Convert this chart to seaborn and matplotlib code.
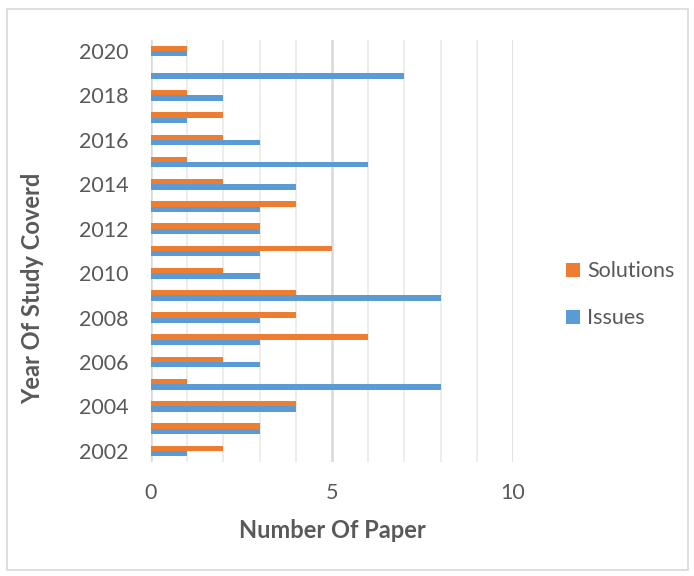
import matplotlib
matplotlib.use("Agg")
import matplotlib.pyplot as plt
import seaborn as sns
import pandas as pd
from matplotlib.patches import Rectangle

years = list(range(2002, 2021))
issues = [1, 3, 4, 8, 3, 3, 3, 8, 3, 3, 3, 3, 4, 6, 3, 1, 2, 7, 1]
solutions = [2, 3, 4, 1, 2, 6, 4, 4, 2, 5, 3, 4, 2, 1, 2, 2, 1, 0, 1]
series_names = ["Solutions", "Issues"]
colors = {"Solutions": "#ED7D31", "Issues": "#5B9BD5"}
x_ticks = [0, 5, 10]

rows = []
for y, s, i in zip(years, solutions, issues):
    rows.append({"Year": str(y), "Series": "Solutions", "Value": s})
    rows.append({"Year": str(y), "Series": "Issues", "Value": i})
df = pd.DataFrame(rows)
order = [str(y) for y in reversed(years)]

sns.set_theme(style="white")
plt.rcParams["font.family"] = ["Lato", "DejaVu Sans"]
text_color = "#595959"

fig = plt.figure(figsize=(6.94, 5.76), dpi=100)
ax = fig.add_axes([0.2176, 0.198, 0.5216, 0.7326])

sns.barplot(data=df, y="Year", x="Value", hue="Series", order=order,
            hue_order=series_names, palette=colors, orient="h",
            width=0.48, ax=ax, saturation=1, errorbar=None, linewidth=0)

ax.set_xlim(0, 10)
ax.set_ylim(len(order) - 0.5, -0.5)
for v in range(0, 11):
    ax.axvline(v, color="#d9d9d9" if v % 5 == 0 else "#ececec",
               lw=1.8 if v % 5 == 0 else 1.3, zorder=0)
ax.set_axisbelow(True)
for sp in ax.spines.values():
    sp.set_visible(False)

ax.set_xticks(x_ticks)
ax.set_xticklabels([str(t) for t in x_ticks], fontsize=15.5, color=text_color)
tick_pos = [k for k, y in enumerate(order) if int(y) % 2 == 0]
ax.set_yticks(tick_pos)
ax.set_yticklabels([order[k] for k in tick_pos], fontsize=15.5, color=text_color)
ax.tick_params(axis="x", length=0, pad=15)
ax.tick_params(axis="y", length=0, pad=16)

ax.set_xlabel("Number Of Paper", fontsize=17, fontweight="bold", color=text_color, va="center")
ax.xaxis.set_label_coords(0.5, -0.1635)
ax.set_ylabel("Year Of Study Coverd", fontsize=17, fontweight="bold", color=text_color, va="center")
ax.yaxis.set_label_coords(-0.326, 0.412)

ax.legend(loc="center left", bbox_to_anchor=(1.094, 0.396), frameon=False,
          fontsize=15.5, labelcolor=text_color, handlelength=0.65, handleheight=0.65,
          handletextpad=0.3, labelspacing=1.25)

fig.patches.append(Rectangle((0.0105, 0.0105), 0.981, 0.9745, transform=fig.transFigure,
                             fill=False, edgecolor="#d9d9d9", lw=1.2))

fig.savefig("out.png", dpi=100)
